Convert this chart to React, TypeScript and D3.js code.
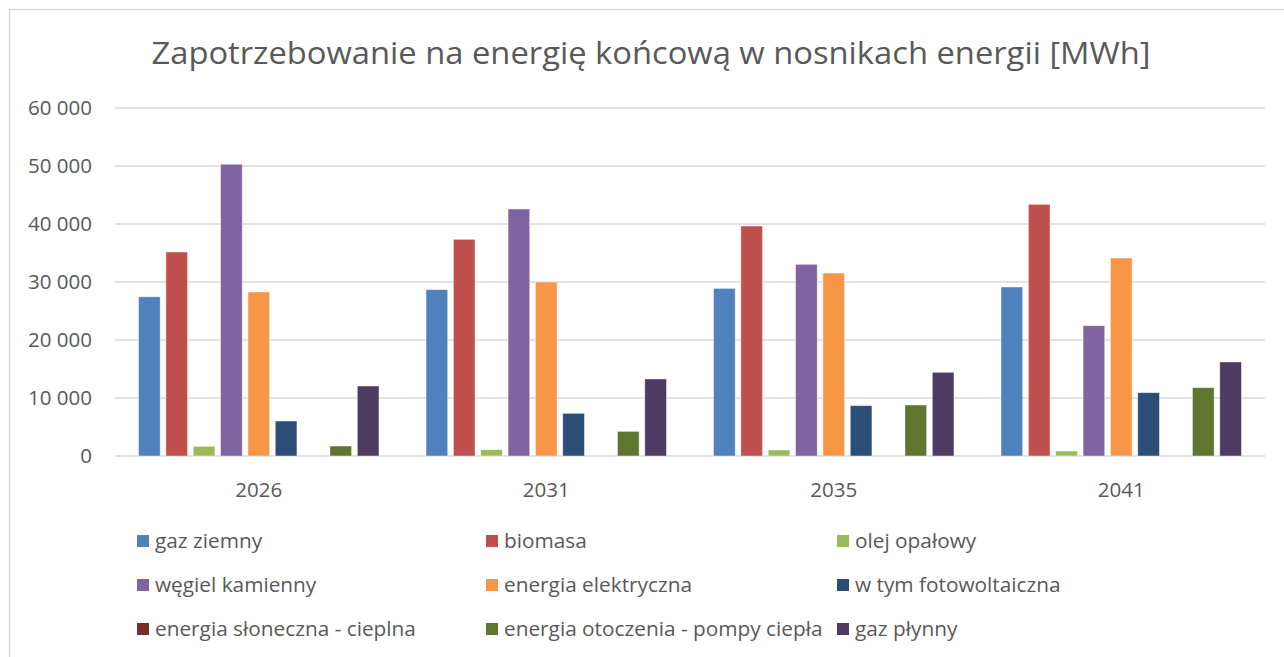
import React from "react";
import * as d3 from "d3";

const years = ["2026", "2031", "2035", "2041"];
const seriesNames = [
  "gaz ziemny",
  "biomasa",
  "olej opałowy",
  "węgiel kamienny",
  "energia elektryczna",
  "w tym fotowoltaiczna",
  "energia słoneczna - cieplna",
  "energia otoczenia - pompy ciepła",
  "gaz płynny",
];
const seriesColors = [
  "#4F81BD",
  "#C0504D",
  "#9BBB59",
  "#8064A2",
  "#F79646",
  "#2C4D75",
  "#772C2A",
  "#5F7530",
  "#4D3B62",
];
// values per series, one per year
const gazZiemny = [27450, 28680, 28900, 29140];
const biomasa = [35170, 37360, 39650, 43390];
const olejOpalowy = [1670, 1090, 1030, 860];
const wegielKamienny = [50300, 42590, 33050, 22470];
const energiaElektryczna = [28280, 30000, 31550, 34140];
const fotowoltaiczna = [6030, 7360, 8680, 10920];
const sloneczna = [0, 0, 0, 0];
const otoczenia = [1720, 4250, 8790, 11780];
const gazPlynny = [12070, 13280, 14430, 16210];
const seriesValues = [
  gazZiemny,
  biomasa,
  olejOpalowy,
  wegielKamienny,
  energiaElektryczna,
  fotowoltaiczna,
  sloneczna,
  otoczenia,
  gazPlynny,
];
const yTicks = [0, 10000, 20000, 30000, 40000, 50000, 60000];
const title = "Zapotrzebowanie na energię końcową w nosnikach energii [MWh]";

const W = 1284;
const H = 657;
const FONT = "'Open Sans', sans-serif";
const TEXT = "#595959";
const GRID = "#d9d9d9";

const fmt = d3
  .formatLocale({ decimal: ",", thousands: " ", grouping: [3], currency: ["", ""] })
  .format(",");

export default function App() {
  const x0 = d3.scaleBand<string>().domain(years).range([115, 1265]).padding(0);
  const x1 = d3
    .scaleBand<number>()
    .domain(d3.range(seriesNames.length))
    .range([0, x0.bandwidth()])
    .paddingInner(0.207)
    .paddingOuter(0.86);
  const y = d3.scaleLinear().domain([0, 60000]).range([456, 108]);

  const legendCols = [137, 486, 837];
  const legendRows = [541, 585, 629];

  return (
    <svg
      width={W}
      height={H}
      style={{ position: "absolute", left: 0, top: 0, background: "#fff" }}
      fontFamily={FONT}
    >
      <rect x={0} y={0} width={W} height={H} fill="#fff" />
      <rect x={9.5} y={9.5} width={W + 20} height={H + 20} fill="none" stroke={GRID} strokeWidth={1.5} />
      <text
        x={651}
        y={64}
        textAnchor="middle"
        fontSize={31}
        fill={TEXT}
        textLength={999}
        lengthAdjust="spacingAndGlyphs"
      >
        {title}
      </text>
      {yTicks.map((t) => (
        <g key={t}>
          <line x1={115} x2={1265} y1={y(t)} y2={y(t)} stroke={GRID} strokeWidth={1.5} />
          <text x={92} y={y(t)} dy="0.36em" textAnchor="end" fontSize={20.5} fill={TEXT}>
            {fmt(t)}
          </text>
        </g>
      ))}
      {years.map((yr, yi) => (
        <g key={yr} transform={`translate(${x0(yr)},0)`}>
          {seriesValues.map((vals, si) =>
            vals[yi] > 0 ? (
              <rect
                key={si}
                x={x1(si)}
                y={y(vals[yi])}
                width={x1.bandwidth()}
                height={y(0) - y(vals[yi])}
                fill={seriesColors[si]}
                stroke="rgba(255,255,255,0.55)"
                strokeWidth={0.8}
              />
            ) : null
          )}
          <text
            x={x0.bandwidth() / 2}
            y={490}
            dy="0.36em"
            textAnchor="middle"
            fontSize={20.5}
            fill={TEXT}
          >
            {yr}
          </text>
        </g>
      ))}
      {seriesNames.map((name, i) => {
        const cx = legendCols[i % 3];
        const cy = legendRows[Math.floor(i / 3)];
        return (
          <g key={name}>
            <rect x={cx} y={cy - 6} width={12} height={12} fill={seriesColors[i]} />
            <text x={cx + 18} y={cy} dy="0.36em" fontSize={20.8} fill={TEXT}>
              {name}
            </text>
          </g>
        );
      })}
    </svg>
  );
}
